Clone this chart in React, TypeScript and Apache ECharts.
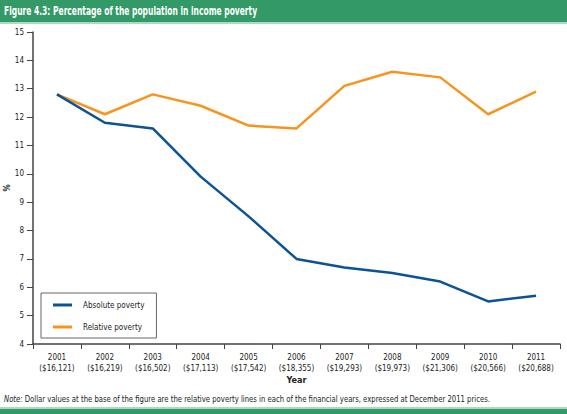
import React, { useEffect, useRef } from "react";
import * as echarts from "echarts";

const years = ["2001", "2002", "2003", "2004", "2005", "2006", "2007", "2008", "2009", "2010", "2011"];
const povertyLines = ["$16,121", "$16,219", "$16,502", "$17,113", "$17,542", "$18,355", "$19,293", "$19,973", "$21,306", "$20,566", "$20,688"];
const absolutePoverty = [12.8, 11.8, 11.6, 9.9, 8.5, 7.0, 6.7, 6.5, 6.2, 5.5, 5.7];
const relativePoverty = [12.8, 12.1, 12.8, 12.4, 11.7, 11.6, 13.1, 13.6, 13.4, 12.1, 12.9];
const yTicks = { min: 4, max: 15, interval: 1 };

const FONT = "'DejaVu Sans Condensed', 'Liberation Sans', sans-serif";
const GREEN = "#339966";

export default function App() {
  const ref = useRef<HTMLDivElement>(null);
  useEffect(() => {
    if (!ref.current) return;
    const chart = echarts.init(ref.current, null, { renderer: "svg" });
    const categories = years.map((y, i) => `${y}\n(${povertyLines[i]})`);
    chart.setOption({
      animation: false,
      backgroundColor: "#ffffff",
      textStyle: { fontFamily: FONT },
      grid: { left: 33, right: 7, top: 32, bottom: 70, containLabel: false, outerBoundsMode: "none" },
      legend: {
        orient: "vertical",
        left: 41,
        top: 293,
        borderColor: "#666",
        borderWidth: 1,
        borderRadius: 0,
        padding: [5, 12, 4, 12],
        icon: "rect",
        itemWidth: 19,
        itemHeight: 3,
        itemGap: 8,
        textStyle: { fontFamily: FONT, fontSize: 8, color: "#222", lineHeight: 14, padding: [0, 0, 0, 6] },
        data: ["Absolute poverty", "Relative poverty"],
      },
      xAxis: {
        type: "category",
        data: categories,
        boundaryGap: true,
        name: "Year",
        nameLocation: "middle",
        nameGap: 31,
        nameMoveOverlap: false,
        nameTextStyle: { fontFamily: FONT, fontSize: 9, fontWeight: "bold", color: "#222" },
        axisLine: { lineStyle: { color: "#444", width: 1.5 } },
        axisTick: { show: true, length: 5, lineStyle: { color: "#444" } },
        axisLabel: { fontFamily: FONT, fontSize: 8, color: "#222", margin: 8, lineHeight: 11, interval: 0 },
      },
      yAxis: {
        type: "value",
        min: yTicks.min,
        max: yTicks.max,
        interval: yTicks.interval,
        name: "%",
        nameLocation: "middle",
        nameGap: 22,
        nameMoveOverlap: false,
        nameTextStyle: { fontFamily: FONT, fontSize: 8, fontWeight: "bold", color: "#222" },
        axisLine: { show: true, lineStyle: { color: "#444", width: 1.5 } },
        axisTick: { show: true, length: 6, lineStyle: { color: "#444" } },
        axisLabel: { fontFamily: FONT, fontSize: 8, color: "#222", margin: 9 },
        splitLine: { show: false },
      },
      series: [
        {
          name: "Absolute poverty",
          type: "line",
          data: absolutePoverty,
          symbol: "none",
          lineStyle: { color: "#0b5299", width: 2.5 },
          itemStyle: { color: "#0b5299" },
          z: 3,
        },
        {
          name: "Relative poverty",
          type: "line",
          data: relativePoverty,
          symbol: "none",
          lineStyle: { color: "#f7941d", width: 2.5 },
          itemStyle: { color: "#f7941d" },
          z: 2,
        },
      ],
      graphic: [
        { type: "rect", left: 0, top: 0, shape: { width: 567, height: 22 }, style: { fill: GREEN } },
        { type: "rect", left: 0, top: 22, shape: { width: 567, height: 2 }, style: { fill: "#a9dcc0" } },
        {
          type: "text",
          x: 4,
          y: 4,
          scaleX: 0.7,
          style: { text: "Figure 4.3: Percentage of the population in income poverty", fill: "#ffffff", fontFamily: FONT, fontSize: 12, fontWeight: "bold" },
        },
        {
          type: "text",
          x: 4,
          y: 394,
          scaleX: 0.9,
          style: {
            text: "{i|Note:} Dollar values at the base of the figure are the relative poverty lines in each of the financial years, expressed at December 2011 prices.",
            fill: "#222",
            fontFamily: FONT,
            fontSize: 8.5,
            rich: { i: { fontStyle: "italic", fontFamily: FONT, fontSize: 8.5, fill: "#222" } },
          },
        },
        { type: "rect", left: 0, top: 407, shape: { width: 567, height: 2 }, style: { fill: "#a9dcc0" } },
        { type: "rect", left: 0, top: 409, shape: { width: 567, height: 5 }, style: { fill: GREEN } },
      ],
    });
    return () => chart.dispose();
  }, []);
  return <div ref={ref} style={{ position: "fixed", left: 0, top: 0, width: 567, height: 414 }} />;
}
